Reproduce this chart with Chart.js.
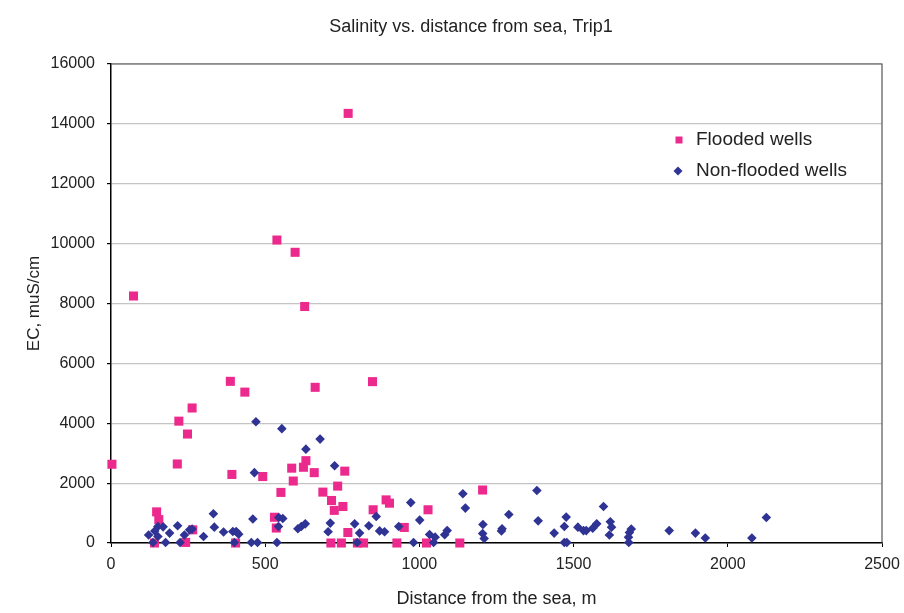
<!DOCTYPE html>
<html>
<head>
<meta charset="utf-8">
<script src="https://cdn.jsdelivr.net/npm/chart.js@4"></script>
<style>body{margin:0;background:#fff}</style>
</head>
<body>
<canvas id="myChart" width="904" height="613"></canvas>
<script>
// Flooded wells (pink squares)
const floodedX = [3, 73, 141, 148, 155, 215, 220, 242, 248, 263, 265, 387, 392, 404, 434, 492, 530, 536, 538, 551,
  586, 591, 597, 624, 628, 632, 659, 662, 687, 713, 715, 724, 735, 747, 752, 758, 768, 769, 799, 819,
  848, 850, 892, 903, 927, 951, 1023, 1028, 1131, 1205];
const floodedY = [2630, 8250, 0, 1040, 780, 2640, 4070, 20, 3640, 4510, 440, 5400, 2290, 0, 5040, 2220, 860, 500, 10120, 1690,
  2500, 2070, 9710, 2530, 7900, 2750, 2350, 5200, 1700, 0, 1420, 1090, 1900, 0, 1220, 2400, 350, 14350, 0, 0,
  5390, 1110, 1440, 1330, 0, 520, 0, 1110, 0, 1770];

// Non-flooded wells (blue diamonds)
const nonFloodedX = [470, 554, 465, 332, 460, 544, 557, 543, 606, 216, 169, 152, 142, 122, 152, 190, 238, 255, 263, 300,
  335, 365, 395, 406, 414, 400, 136, 177, 224, 455, 475, 538,
  678, 632, 725, 617, 630, 711, 704, 790, 806, 836, 860, 871, 887, 933, 972, 1001, 1033, 1051,
  1046, 1082, 1090, 1141, 1149, 1206, 1205, 1210, 798, 981,
  1268, 1266, 1290, 1381, 1385, 1437, 1470, 1476, 1470, 1478, 1514, 1532, 1541, 1562, 1575, 1597, 1619, 1623, 1616, 1681,
  1687, 1678, 1679, 1810, 1895, 1927, 2078, 2125];
const nonFloodedY = [4050, 3820, 2350, 975, 800, 850, 820, 550, 475, 575, 540, 550, 400, 265, 215, 330, 265, 440, 465, 215,
  530, 365, 385, 385, 295, 15, 15, 15, 15, 15, 15, 15,
  3470, 3135, 2580, 550, 640, 665, 375, 640, 330, 575, 885, 405, 375, 550, 1350, 765, 285, 195,
  15, 275, 415, 1645, 1165, 620, 315, 150, 15, 15,
  475, 400, 950, 1755, 740, 330, 550, 865, 15, 15, 530, 415, 415, 495, 640, 1220, 710, 530, 265, 350,
  465, 195, 15, 415, 330, 165, 165, 850];

const xTicks = [0, 500, 1000, 1500, 2000, 2500];
const yTicks = [0, 2000, 4000, 6000, 8000, 10000, 12000, 14000, 16000];

const pink = '#ec2a8d';
const blue = '#2f3393';

const toPoints = (xs, ys) => xs.map((x, i) => ({ x: x, y: ys[i] }));

Chart.defaults.font.family = '"Liberation Sans", Arial, sans-serif';
Chart.defaults.color = '#222';

// title, plot border and legend drawn on top
const extras = {
  id: 'extras',
  afterDraw(chart) {
    const c = chart.ctx;
    const a = chart.chartArea;
    c.save();
    c.strokeStyle = '#555';
    c.lineWidth = 1.2;
    c.beginPath();
    c.moveTo(a.left, a.top);
    c.lineTo(a.right, a.top);
    c.lineTo(a.right, a.bottom);
    c.stroke();

    c.fillStyle = '#222';
    c.textBaseline = 'middle';
    c.textAlign = 'center';
    c.font = '18px "Liberation Sans", Arial, sans-serif';
    c.fillText('Salinity vs. distance from sea, Trip1', 471, 27);

    c.textAlign = 'left';
    c.font = '19px "Liberation Sans", Arial, sans-serif';
    c.fillText('Flooded wells', 696, 140);
    c.fillText('Non-flooded wells', 696, 171);
    c.fillStyle = pink;
    c.fillRect(675.5, 136.5, 7, 7);
    c.fillStyle = blue;
    c.beginPath();
    c.moveTo(678, 166.5);
    c.lineTo(682.5, 171);
    c.lineTo(678, 175.5);
    c.lineTo(673.5, 171);
    c.closePath();
    c.fill();
    c.restore();
  }
};

const ctx = document.getElementById('myChart').getContext('2d');

const myChart = new Chart(ctx, {
  type: 'scatter',
  data: {
    datasets: [
      {
        label: 'Non-flooded wells',
        data: toPoints(nonFloodedX, nonFloodedY),
        pointStyle: 'rectRot',
        pointRadius: 4.8,
        pointBorderWidth: 0,
        backgroundColor: blue,
        borderColor: blue,
        clip: false
      },
      {
        label: 'Flooded wells',
        data: toPoints(floodedX, floodedY),
        pointStyle: 'rect',
        pointRadius: 6.4,
        pointBorderWidth: 0,
        backgroundColor: pink,
        borderColor: pink,
        clip: false
      }
    ]
  },
  options: {
    responsive: false,
    animation: false,
    layout: { padding: { top: 64, right: 22, left: 0, bottom: 0 } },
    plugins: {
      legend: { display: false },
      tooltip: { enabled: false }
    },
    scales: {
      x: {
        type: 'linear',
        min: 0,
        max: 2500,
        afterBuildTicks: s => { s.ticks = xTicks.map(v => ({ value: v })); },
        afterFit: s => { s.height = 70; s.paddingLeft = 0; s.paddingRight = 0; },
        ticks: { font: { size: 16 }, padding: 8, color: '#222', callback: v => String(v) },
        grid: { drawOnChartArea: false, tickLength: 4, tickColor: '#000' },
        border: { color: '#000', width: 1.5 },
        title: {
          display: true,
          text: 'Distance from the sea, m',
          font: { size: 18 },
          color: '#222',
          padding: { top: 0, bottom: 3 }
        }
      },
      y: {
        min: 0,
        max: 16000,
        afterBuildTicks: s => { s.ticks = yTicks.map(v => ({ value: v })); },
        afterFit: s => { s.width = 111; },
        ticks: { font: { size: 16 }, padding: 12, color: '#222', callback: v => String(v) },
        grid: { color: '#c4c4c4', lineWidth: 1.2, tickLength: 4, tickColor: '#000' },
        border: { color: '#000', width: 1.5 },
        title: {
          display: true,
          text: 'EC, muS/cm',
          font: { size: 17 },
          color: '#222',
          padding: { top: 24, bottom: 0 }
        }
      }
    }
  },
  plugins: [extras]
});
</script>
</body>
</html>
